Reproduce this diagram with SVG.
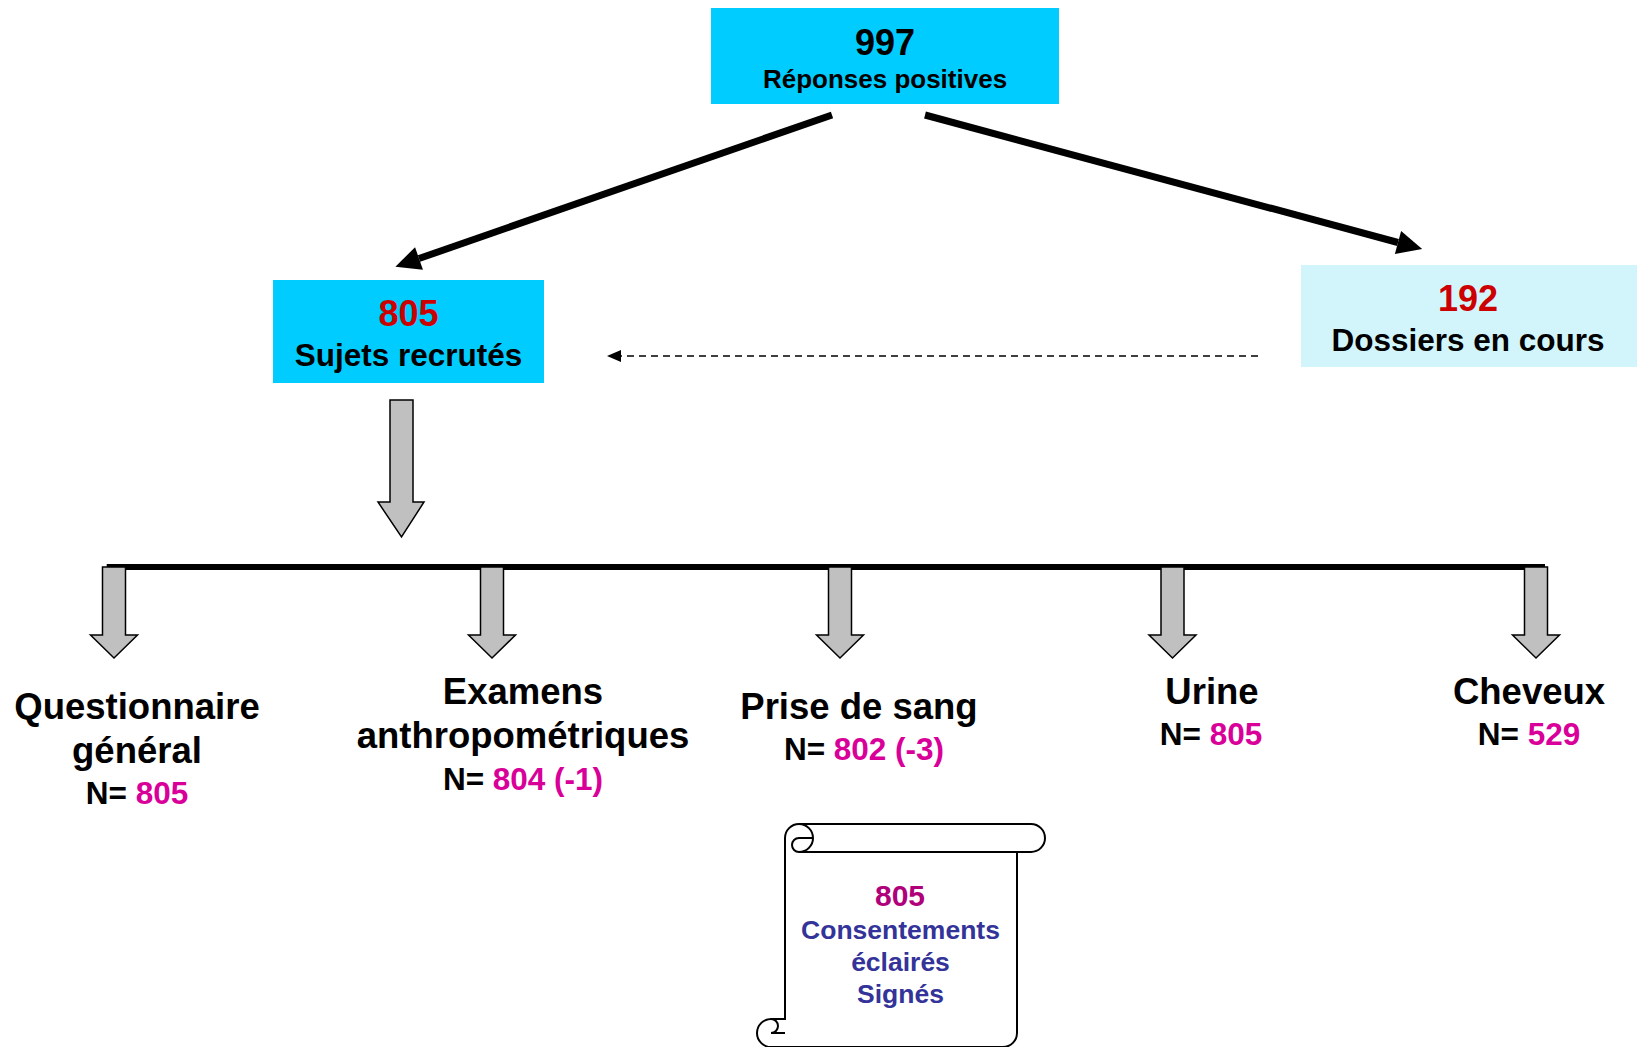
<svg xmlns="http://www.w3.org/2000/svg" width="1637" height="1047" viewBox="0 0 1637 1047">
<style>
text{font-family:"Liberation Sans",Arial,sans-serif;font-weight:bold;text-anchor:middle;}
.blk{fill:#000}
.red{fill:#CC0000}
.mag{fill:#D9009A}
.big{font-size:36.5px}
.mid{font-size:31.5px}
.sarrow{fill:#C0C0C0;stroke:#000;stroke-width:1.5;stroke-linejoin:miter}
.thick{stroke:#000;stroke-width:7;fill:none}
</style>
<defs>
<marker id="head" markerUnits="userSpaceOnUse" markerWidth="26" markerHeight="24" refX="0" refY="12" orient="auto" overflow="visible">
<path d="M0,0 L25,12 L0,24 Z" fill="#000"/>
</marker>
<marker id="dhead" markerUnits="userSpaceOnUse" markerWidth="16" markerHeight="12" refX="0" refY="6" orient="auto" overflow="visible">
<path d="M0,0 L14,6 L0,12 Z" fill="#000"/>
</marker>
</defs>

<g id="connectors">
<line class="thick" x1="832" y1="115" x2="419" y2="258.5" marker-end="url(#head)"/>
<line class="thick" x1="925" y1="115" x2="1398" y2="242.5" marker-end="url(#head)"/>
<line x1="1258" y1="356" x2="621" y2="356" stroke="#000" stroke-width="1.5" stroke-dasharray="7 5" marker-end="url(#dhead)"/>
<polygon class="sarrow" points="390,400 413,400 413,502 424,502 401.5,537 378,502 390,502"/>
<line x1="106.7" y1="567" x2="1545" y2="567" stroke="#000" stroke-width="6"/>
<polygon class="sarrow" points="102.5,567 125.5,567 125.5,635 137.5,635 114,658 90.5,635 102.5,635"/>
<polygon class="sarrow" points="480.5,567 503.5,567 503.5,635 515.5,635 492,658 468.5,635 480.5,635"/>
<polygon class="sarrow" points="828.5,567 851.5,567 851.5,635 863.5,635 840,658 816.5,635 828.5,635"/>
<polygon class="sarrow" points="1161,567 1184,567 1184,635 1196,635 1172.5,658 1149,635 1161,635"/>
<polygon class="sarrow" points="1524.5,567 1547.5,567 1547.5,635 1559.5,635 1536,658 1512.5,635 1524.5,635"/>
</g>

<g id="node-reponses">
<rect x="711" y="8" width="348" height="96" fill="#00CCFF"/>
<text x="885" y="55" class="blk" font-size="36">997</text>
<text x="885" y="88" class="blk" font-size="26">Réponses positives</text>
</g>

<g id="node-sujets">
<rect x="273" y="280" width="271" height="103" fill="#00CCFF"/>
<text x="408.5" y="326" class="red" font-size="36">805</text>
<text x="408.5" y="366" class="blk mid">Sujets recrutés</text>
</g>

<g id="node-dossiers">
<rect x="1301" y="265" width="336" height="102" fill="#D2F5FC"/>
<text x="1468" y="311" class="red" font-size="36">192</text>
<text x="1468" y="351" class="blk mid">Dossiers en cours</text>
</g>

<g id="node-questionnaire">
<text x="137" y="719" class="blk big">Questionnaire</text>
<text x="137" y="763" class="blk big">général</text>
<text x="137" y="804" class="mid"><tspan class="blk">N= </tspan><tspan class="mag">805</tspan></text>
</g>

<g id="node-examens">
<text x="523" y="704" class="blk big">Examens</text>
<text x="523" y="748" class="blk big">anthropométriques</text>
<text x="523" y="790" class="mid"><tspan class="blk">N= </tspan><tspan class="mag">804 (-1)</tspan></text>
</g>

<g id="node-sang">
<text x="859" y="719" class="blk big">Prise de sang</text>
<text x="864" y="760" class="mid"><tspan class="blk">N= </tspan><tspan class="mag">802 (-3)</tspan></text>
</g>

<g id="node-urine">
<text x="1212" y="704" class="blk big">Urine</text>
<text x="1211" y="745" class="mid"><tspan class="blk">N= </tspan><tspan class="mag">805</tspan></text>
</g>

<g id="node-cheveux">
<text x="1529" y="704" class="blk big">Cheveux</text>
<text x="1529" y="745" class="mid"><tspan class="blk">N= </tspan><tspan class="mag">529</tspan></text>
</g>

<g id="node-consentements">
<path d="M785,1019 L785,838 A14,14 0 0 1 799,824 L1031,824 A14,14 0 0 1 1031,852 L1017,852 L1017,1033 A14,14 0 0 1 1003,1047 L771,1047 A14,14 0 0 1 771,1019 Z" fill="#FFFFFF" stroke="#000" stroke-width="2"/>
<path d="M799,824 A14,14 0 0 1 799,852 A7,7 0 0 1 799,838 L813,838 M1017,852 L799,852 M771,1019 A7,7 0 0 1 771,1033 L785,1033" fill="none" stroke="#000" stroke-width="2"/>
<text x="900" y="906" font-size="30" fill="#B0007A">805</text>
<text x="900.5" y="939" font-size="26.5" fill="#333399">Consentements</text>
<text x="900.5" y="971" font-size="26.5" fill="#333399">éclairés</text>
<text x="900.5" y="1003" font-size="26.5" fill="#333399">Signés</text>
</g>
</svg>
